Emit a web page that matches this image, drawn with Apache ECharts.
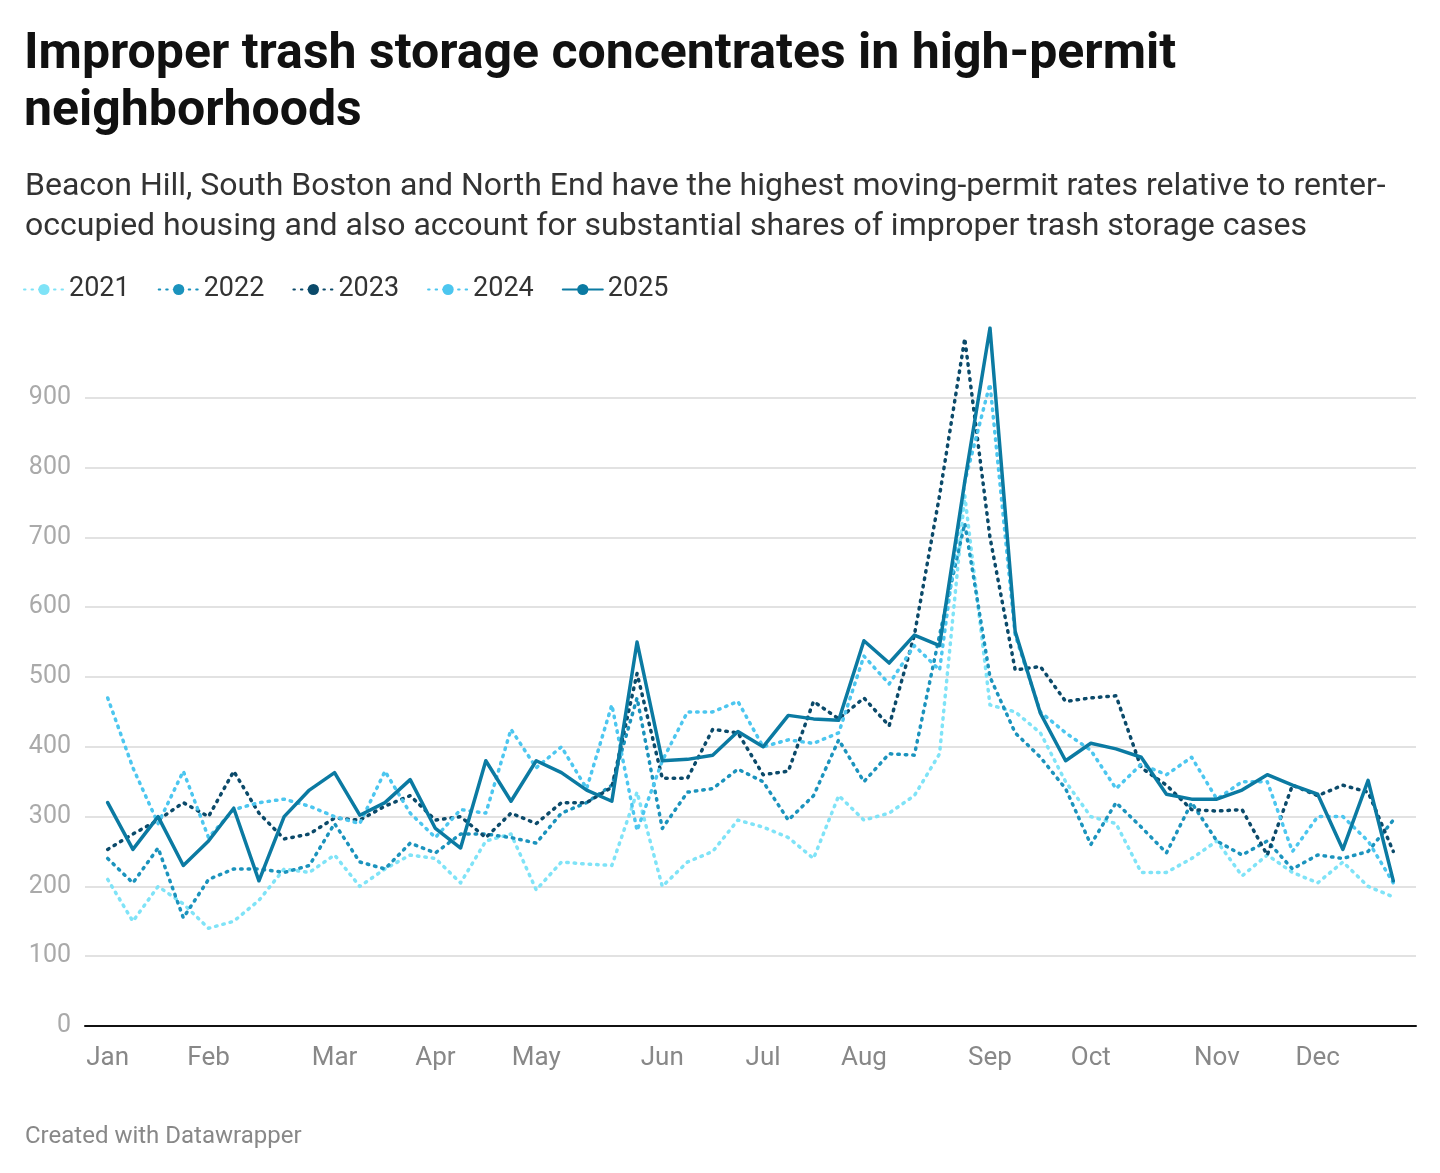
<!DOCTYPE html>
<html>
<head>
<meta charset="utf-8">
<script src="https://cdn.jsdelivr.net/npm/echarts@6/dist/echarts.min.js"></script>
<style>
html,body{margin:0;padding:0;background:#fff;}
#chart{width:1440px;height:1173px;}
</style>
</head>
<body>
<div id="chart"></div>
<script>
// weekly index 0..51, month labels at these weeks
var monthWeeks = [0, 4, 9, 13, 17, 22, 26, 30, 35, 39, 44, 48];
var monthNames = ['Jan','Feb','Mar','Apr','May','Jun','Jul','Aug','Sep','Oct','Nov','Dec'];

var y2021 = [210,150,200,175,140,150,180,225,220,245,200,225,245,240,205,265,275,195,235,232,230,335,200,235,250,295,285,270,240,330,295,305,330,390,760,460,450,420,350,300,290,220,220,240,265,215,245,220,205,235,200,185];
var y2022 = [240,205,255,155,210,225,225,220,230,290,235,225,262,248,275,275,270,262,305,320,345,470,283,335,340,368,350,295,330,410,350,390,388,560,720,500,420,385,340,260,320,285,248,320,265,245,265,225,245,240,250,295];
var y2023 = [253,275,295,320,300,365,305,268,275,298,295,315,330,295,300,270,305,290,320,320,342,505,355,355,425,420,360,365,465,440,470,430,560,760,985,700,510,515,465,470,473,370,345,310,308,310,245,345,330,345,335,250];
var y2024 = [470,370,290,365,270,310,320,325,315,300,290,365,305,270,310,305,425,370,400,340,460,280,380,450,450,465,400,410,405,420,530,490,545,510,780,920,560,450,420,395,340,375,360,385,325,350,350,250,300,300,265,205];
var y2025 = [320,253,300,230,265,312,208,300,338,363,302,320,353,283,255,380,322,380,363,338,322,550,380,382,388,422,400,445,440,438,552,520,560,545,780,1000,565,448,380,405,397,385,332,325,325,338,360,345,332,253,352,208];

var seriesNames = ['2021','2022','2023','2024','2025'];
var seriesData = [y2021, y2022, y2023, y2024, y2025];
var seriesColors = ['#7fe3f7','#1b93bd','#0b4a6a','#4cc6ef','#0b7aa2'];
var seriesType = ['dotted','dotted','dotted','dotted','solid'];

function toPairs(arr){
    return arr.map(function(v, i){ return [i, v]; });
}

var myChart = echarts.init(document.getElementById('chart'));
var series = seriesNames.map(function(name, k){
    return {
        name: name,
        type: 'line',
        data: toPairs(seriesData[k]),
        symbol: 'none',
        z: k == 4 ? 5 : 2,
        lineStyle: {
            color: seriesColors[k],
            width: 3.5,
            type: seriesType[k] == 'dotted' ? [1.5, 6] : 'solid',
            cap: 'round',
            join: 'round'
        },
        itemStyle: {color: seriesColors[k]}
    };
});

var option = {
    animation: false,
    textStyle: {fontFamily: 'Roboto'},
    title: [
        {
            text: 'Improper trash storage concentrates in high-permit\nneighborhoods',
            left: 19, top: 22,
            textStyle: {fontSize: 50, fontWeight: 'bold', color: '#111', lineHeight: 57, fontFamily: 'Roboto'}
        },
        {
            text: 'Beacon Hill, South Boston and North End have the highest moving-permit rates relative to renter-\noccupied housing and also account for substantial shares of improper trash storage cases',
            left: 20, top: 162,
            textStyle: {fontSize: 32, fontWeight: 'normal', color: '#333', lineHeight: 40, fontFamily: 'Roboto'}
        },
        {
            text: 'Created with Datawrapper',
            left: 20, top: 1120,
            textStyle: {fontSize: 24, fontWeight: 'normal', color: '#888', fontFamily: 'Roboto'}
        }
    ],
    legend: {
        left: 18, top: 271,
        itemWidth: 40, itemHeight: 14, itemGap: 28,
        textStyle: {fontSize: 27, color: '#333'},
        data: seriesNames
    },
    grid: {left: 85, right: 24, top: 328, bottom: 147},
    xAxis: {
        type: 'value',
        min: -0.9, max: 51.9,
        axisLine: {show: true, lineStyle: {color: '#111', width: 2}},
        axisTick: {show: false},
        splitLine: {show: false},
        axisLabel: {
            customValues: monthWeeks,
            formatter: function(v){ return monthNames[monthWeeks.indexOf(v)] || ''; },
            fontSize: 26, color: '#888', margin: 19
        }
    },
    yAxis: {
        type: 'value',
        min: 0, max: 1000, interval: 100,
        axisLine: {show: false},
        axisTick: {show: false},
        axisLabel: {fontSize: 25, color: '#aaa', margin: 14, showMaxLabel: false},
        splitLine: {showMaxLine: false, lineStyle: {color: '#e2e2e2', width: 2}}
    },
    series: series
};
myChart.setOption(option);
</script>
</body>
</html>
